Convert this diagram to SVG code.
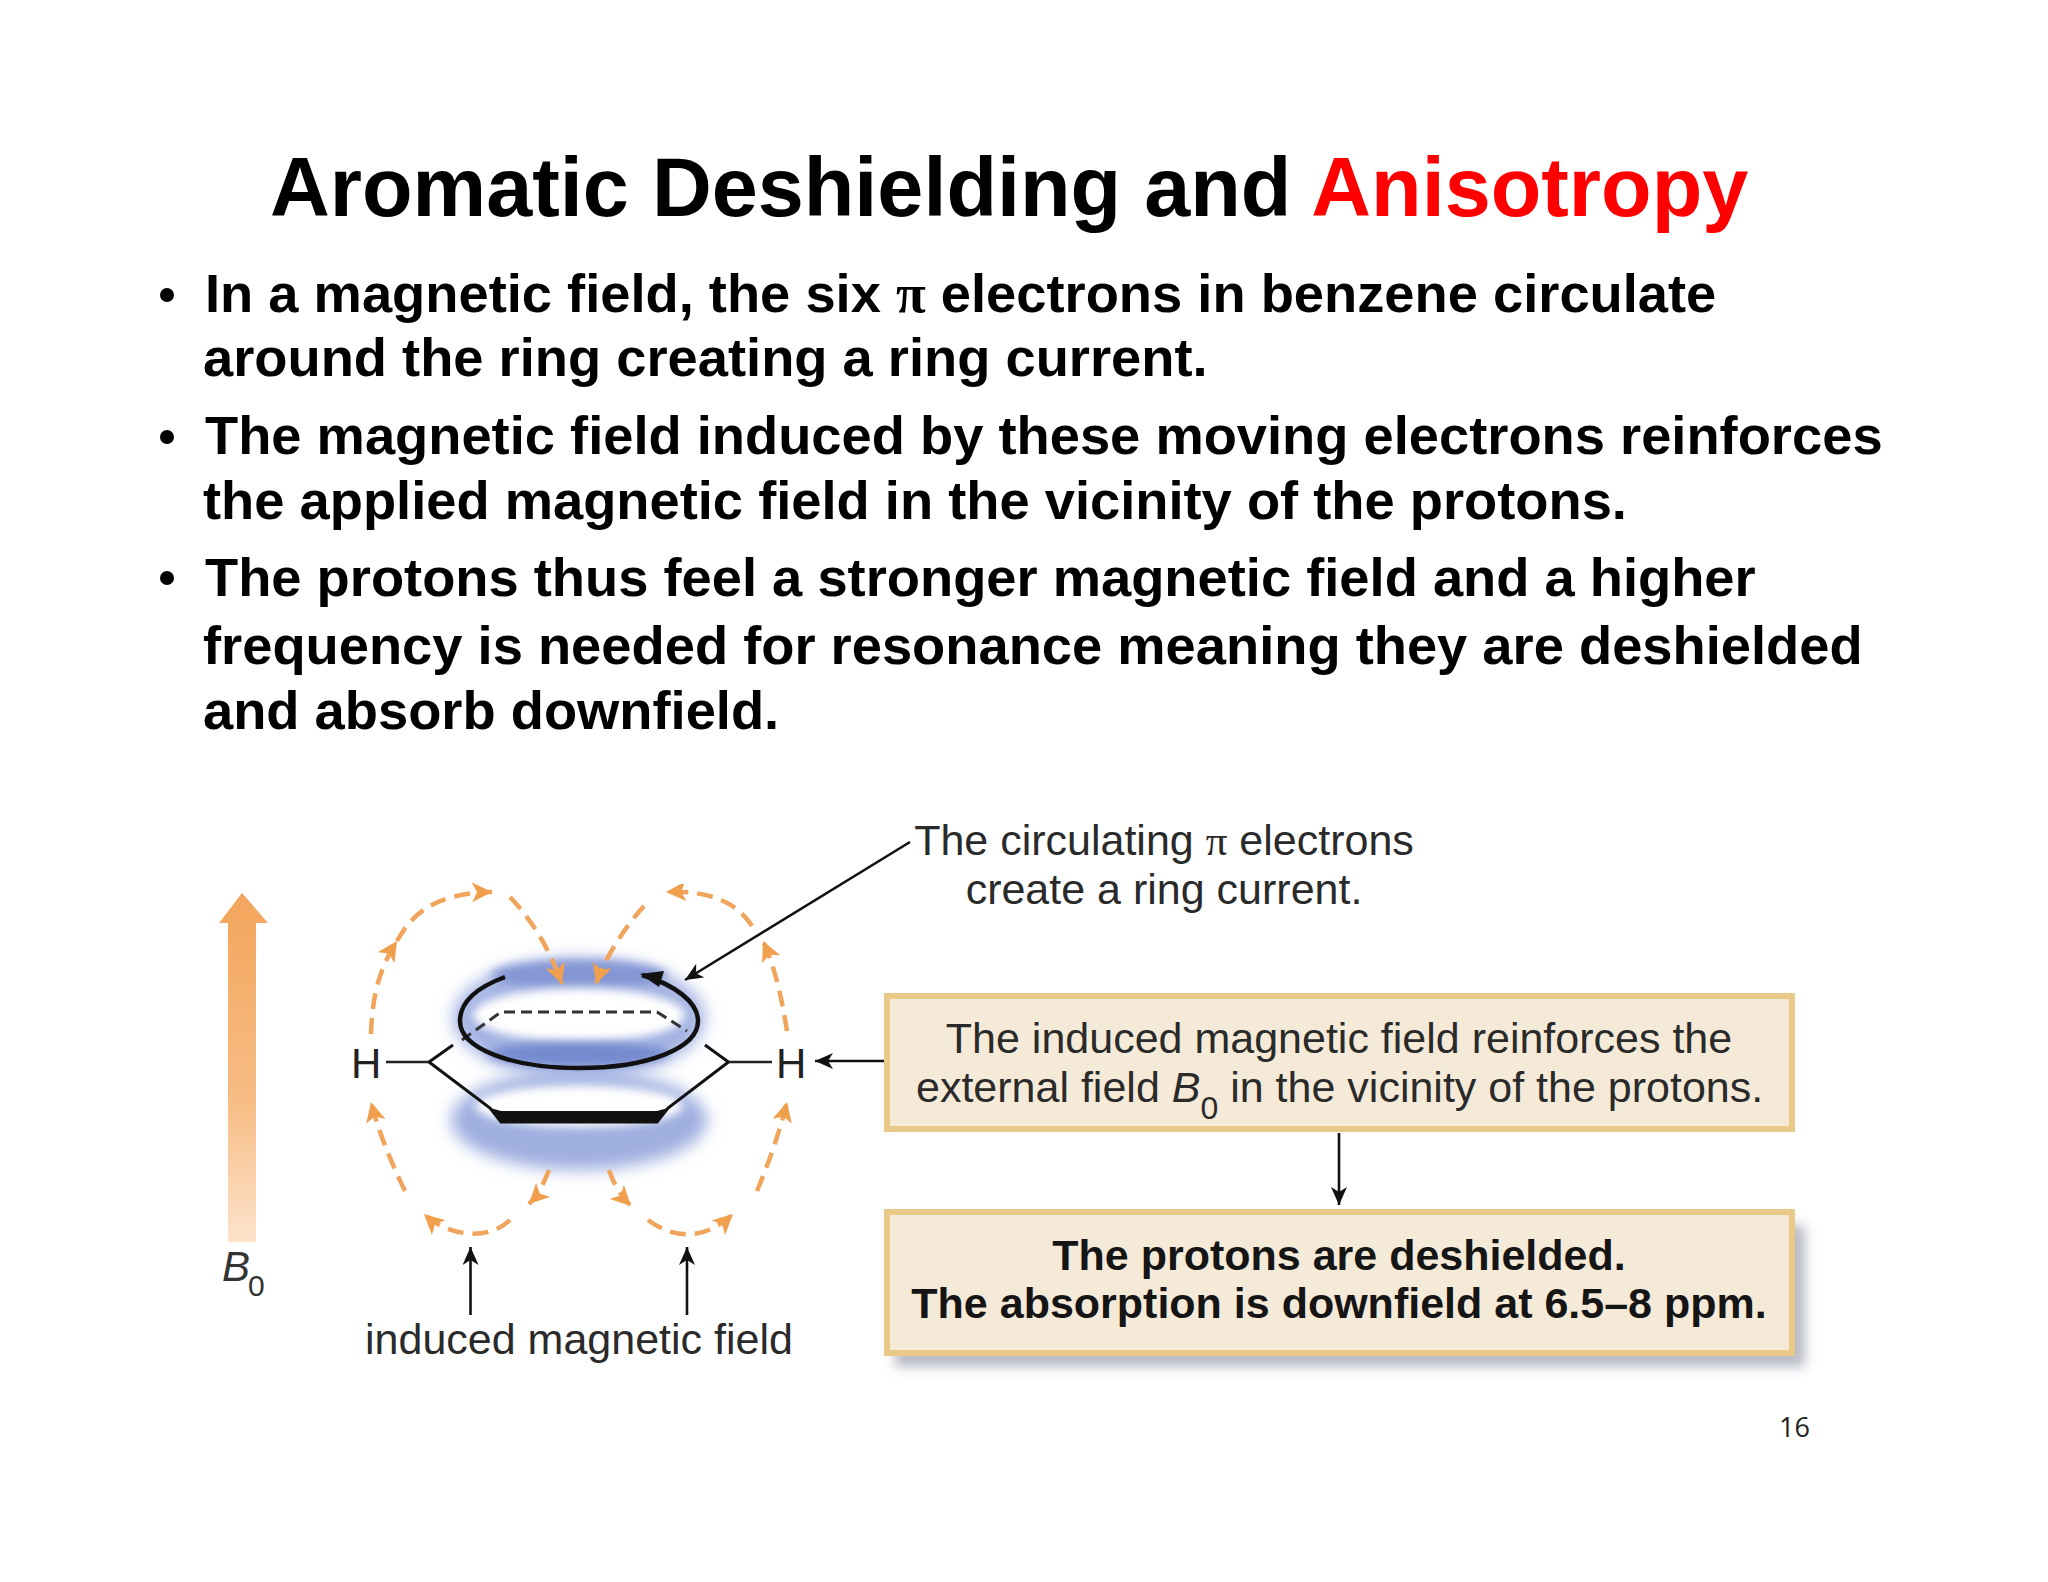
<svg xmlns="http://www.w3.org/2000/svg" width="2048" height="1582" viewBox="0 0 2048 1582">
<style>
text{font-family:"Liberation Sans",Arial,sans-serif}
.title{font-size:82.800px;font-weight:700;fill:#000}
.body{font-size:54.300px;font-weight:700;fill:#000}
.pi{font-family:"Liberation Serif","Times New Roman",serif}
.lab{font-size:43px;fill:#2a2a2a}
.labb{font-size:43px;font-weight:700;fill:#151515}
.box{fill:#f5ead8;stroke:#e9c987;stroke-width:6}
.conn{fill:none;stroke:#111;stroke-width:2.6}
.field{fill:none;stroke:#f0a45c;stroke-width:4.5;stroke-dasharray:16 9;filter:url(#soft)}
</style>
<defs>
<marker id="ah" markerUnits="userSpaceOnUse" markerWidth="24" markerHeight="20" refX="18" refY="8" orient="auto"><path d="M0 0L18 8L0 16L5 8Z" fill="#111"/></marker>
<marker id="oh" markerUnits="userSpaceOnUse" markerWidth="26" markerHeight="24" refX="20" refY="10" orient="auto"><path d="M0 0L20 10L0 20L5 10Z" fill="#f0a04e"/></marker>
<linearGradient id="bg" x1="0" y1="0" x2="0" y2="1"><stop offset="0" stop-color="#f3a55c"/><stop offset=".6" stop-color="#f7bd85"/><stop offset="1" stop-color="#fde3cb"/></linearGradient>
<filter id="soft" x="-20%" y="-20%" width="140%" height="140%"><feGaussianBlur stdDeviation="0.7"/></filter>
<filter id="blur" x="-30%" y="-50%" width="160%" height="200%"><feGaussianBlur stdDeviation="8"/></filter>
<filter id="blur2" x="-30%" y="-60%" width="160%" height="220%"><feGaussianBlur stdDeviation="5"/></filter>
<filter id="sh" x="-5%" y="-10%" width="110%" height="125%"><feGaussianBlur stdDeviation="6"/></filter>
</defs>
<rect width="2048" height="1582" fill="#fff"/>
<g id="title"><text class="title" x="270" y="216">Aromatic Deshielding and <tspan fill="#f00">Anisotropy</tspan></text></g>
<g id="bullets">
<g id="bullet-1"><circle cx="167" cy="295" r="7"/><text class="body" x="205" y="312">In a magnetic field, the six <tspan class="pi">π</tspan> electrons in benzene circulate</text><text class="body" x="203" y="376">around the ring creating a ring current.</text></g>
<g id="bullet-2"><circle cx="167" cy="437" r="7"/><text class="body" x="205" y="454">The magnetic field induced by these moving electrons reinforces</text><text class="body" x="203" y="519">the applied magnetic field in the vicinity of the protons.</text></g>
<g id="bullet-3"><circle cx="167" cy="578" r="7"/><text class="body" x="205" y="596">The protons thus feel a stronger magnetic field and a higher</text><text class="body" x="203" y="664">frequency is needed for resonance meaning they are deshielded</text><text class="body" x="203" y="729">and absorb downfield.</text></g>
</g>
<g id="b0-arrow"><path d="M242 893L268 923H256V1242H228V923H219Z" fill="url(#bg)" filter="url(#soft)"/><text x="222" y="1281" font-size="42" font-style="italic" fill="#333">B</text><text x="248" y="1296" font-size="30" fill="#333">0</text></g>
<g id="benzene">
<ellipse cx="579" cy="1120" rx="128" ry="50" fill="#9fafe0" filter="url(#blur)"/>
<ellipse cx="579" cy="1018" rx="126" ry="60" fill="#a3b2e2" filter="url(#blur)"/>
<ellipse cx="579" cy="975" rx="88" ry="14" fill="#8496d4" filter="url(#blur2)"/>
<ellipse cx="579" cy="1015" rx="106" ry="27" fill="#fff" filter="url(#blur2)"/>
<ellipse cx="579" cy="1054" rx="90" ry="12" fill="#7489cf" filter="url(#blur2)"/>
<ellipse cx="579" cy="1106" rx="104" ry="21" fill="#fff" filter="url(#blur2)"/>
<path d="M453 1045L429 1062L490 1108L501 1122H657L668 1108L728.500 1062L705 1045" fill="none" stroke="#111" stroke-width="3"/>
<path d="M490 1108L501 1122H657L668 1108L657 1111H501Z" fill="#111"/>
<path d="M462 1040L501 1012H657L687 1031" fill="none" stroke="#333" stroke-width="3" stroke-dasharray="11 6"/>
<path d="M505 977C470 990 460 1006 460 1021C460 1048 510 1068 579 1068C648 1068 698 1048 698 1021C698 1002 675 985 642 975" fill="none" stroke="#111" stroke-width="4.500"/>
<path d="M640 974L664 971L659 987Z" fill="#111"/>
<text x="351" y="1078" font-size="42" fill="#222">H</text>
<path d="M386 1062H429M728 1062H772" stroke="#222" stroke-width="2.600"/>
<text x="776" y="1078" font-size="42" fill="#222">H</text>
</g>
<g id="induced-field">
<path class="field" marker-end="url(#oh)" d="M371 1034C372 1000 378 970 397 941"/>
<path class="field" marker-end="url(#oh)" d="M397 941C410 918 430 893 492 892"/>
<path class="field" marker-end="url(#oh)" d="M510 897C530 918 548 945 562 984"/>
<path class="field" marker-end="url(#oh)" d="M644 906C624 928 604 960 596 984"/>
<path class="field" marker-end="url(#oh)" d="M752 926C738 905 715 890 666 892"/>
<path class="field" marker-end="url(#oh)" d="M787 1031C782 1000 776 970 763 941"/>
<path class="field" marker-end="url(#oh)" d="M405 1191C390 1160 378 1130 371 1102"/>
<path class="field" marker-end="url(#oh)" d="M510 1220C490 1240 450 1238 424 1214"/>
<path class="field" marker-end="url(#oh)" d="M549 1170C543 1185 538 1195 529 1204"/>
<path class="field" marker-end="url(#oh)" d="M609 1170C614 1185 620 1195 631 1206"/>
<path class="field" marker-end="url(#oh)" d="M648 1220C675 1240 705 1240 733 1214"/>
<path class="field" marker-end="url(#oh)" d="M757 1191C770 1160 780 1130 787 1102"/>
</g>
<g id="box-protons-deshielded">
<rect x="895" y="1225" width="910" height="142" fill="#9a9fae" opacity=".7" filter="url(#sh)"/>
<rect class="box" x="887" y="1212" width="905" height="141"/>
<text class="labb" x="1339" y="1270" text-anchor="middle">The protons are deshielded.</text>
<text class="labb" x="1339" y="1318" text-anchor="middle">The absorption is downfield at 6.5–8 ppm.</text>
</g>
<g id="box-induced-field">
<rect class="box" x="887" y="996" width="905" height="133"/>
<text class="lab" x="1339" y="1053" text-anchor="middle">The induced magnetic field reinforces the</text>
<text class="lab" x="916" y="1102">external field <tspan font-style="italic">B</tspan><tspan font-size="32" dy="17">0</tspan><tspan dy="-17"> in the vicinity of the protons.</tspan></text>
</g>
<g id="label-ring-current">
<text class="lab" x="1164" y="855" text-anchor="middle">The circulating <tspan class="pi">π</tspan> electrons</text>
<text class="lab" x="1164" y="904" text-anchor="middle">create a ring current.</text>
</g>
<g id="label-induced"><text class="lab" x="579" y="1354" text-anchor="middle">induced magnetic field</text></g>
<g id="connectors">
<path class="conn" marker-end="url(#ah)" d="M910 842L685 980"/>
<path class="conn" marker-end="url(#ah)" d="M884 1061H815"/>
<path class="conn" marker-end="url(#ah)" d="M1339 1133V1205"/>
<path class="conn" marker-end="url(#ah)" d="M470.500 1315V1247"/>
<path class="conn" marker-end="url(#ah)" d="M687 1315V1247"/>
</g>
<g id="page-number"><text x="1779" y="1437" font-size="27" fill="#222" style="font-family:'Open Sans',sans-serif">16</text></g>
</svg>
